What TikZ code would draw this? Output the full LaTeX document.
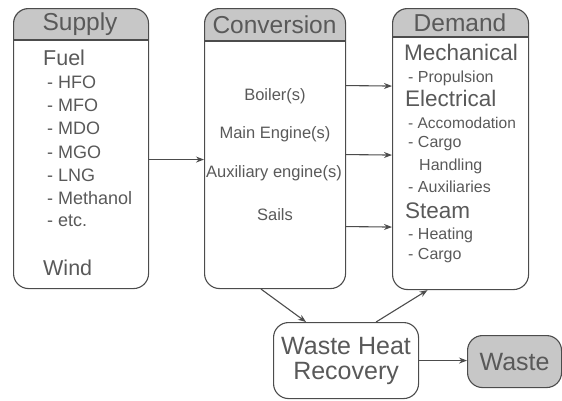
\documentclass[tikz,border=0pt]{standalone}
\usepackage{fontspec}
\setmainfont{Liberation Sans}
\usetikzlibrary{arrows.meta}
\begin{document}
\begin{tikzpicture}[x=1pt,y=-1pt,
  box/.style={draw=black!70, line width=1.1pt, rounded corners=15pt, inner sep=0pt},
  hdr/.style={fill=black!22},
  ttl/.style={text=black!65, inner sep=0pt, font=\fontsize{24.5}{24}\selectfont},
  big/.style={text=black!65, inner sep=0pt, anchor=west, font=\fontsize{21.5}{22}\selectfont},
  itm/.style={text=black!65, inner sep=0pt, anchor=west, font=\fontsize{18}{18}\selectfont},
  cit/.style={text=black!65, inner sep=0pt, font=\fontsize{16.5}{17}\selectfont},
  ditm/.style={text=black!65, inner sep=0pt, anchor=west, font=\fontsize{16}{16}\selectfont},
  arr/.style={draw=black!70, line width=1.1pt, -{Stealth[length=8pt,width=6pt]}}]
\useasboundingbox (0,0) rectangle (562,400);
% headers
\begin{scope}
\clip[rounded corners=15pt] (13,8) rectangle (148,288);
\fill[hdr] (13,8) rectangle (148,40);
\end{scope}
\begin{scope}
\clip[rounded corners=15pt] (204,8) rectangle (345,288);
\fill[hdr] (204,8) rectangle (345,41);
\end{scope}
\begin{scope}
\clip[rounded corners=15pt] (392,8) rectangle (528,289);
\fill[hdr] (392,8) rectangle (528,37);
\end{scope}
\draw[draw=black!70, line width=1.1pt] (13,40) -- (148,40);
\draw[draw=black!70, line width=1.1pt] (204,41) -- (345,41);
\draw[draw=black!70, line width=1.1pt] (392,37) -- (528,37);
% boxes
\node[box, anchor=north west, minimum width=135pt, minimum height=280pt] (supply) at (13,8) {};
\node[box, anchor=north west, minimum width=141pt, minimum height=280pt] (conv) at (204,8) {};
\node[box, anchor=north west, minimum width=136pt, minimum height=281pt] (demand) at (392,8) {};
\node[box, anchor=north west, minimum width=145pt, minimum height=76pt, align=center,
      text=black!65, font=\fontsize{25}{25}\selectfont] (whr) at (273,322) {Waste Heat\\Recovery};
\node[box, hdr, anchor=north west, minimum width=94pt, minimum height=52pt,
      text=black!65, font=\fontsize{25}{25}\selectfont] (waste) at (467,335) {Waste};
% titles
\node[ttl] (tsupply) at (80,24) {Supply};
\node[ttl] (tconv) at (274.5,24.5) {Conversion};
\node[ttl] (tdemand) at (460,22.5) {Demand};
% supply texts
\node[big] (fuel) at (43,58) {Fuel};
\node[itm] (s1) at (47,82) {- HFO};
\node[itm] (s2) at (47,105) {- MFO};
\node[itm] (s3) at (47,128) {- MDO};
\node[itm] (s4) at (47,152) {- MGO};
\node[itm] (s5) at (47,175) {- LNG};
\node[itm] (s6) at (47,198) {- Methanol};
\node[itm] (s7) at (47,221) {- etc.};
\node[big] (wind) at (43,268) {Wind};
% conversion texts
\node[cit] (c1) at (275,96) {Boiler(s)};
\node[cit] (c2) at (275,134) {Main Engine(s)};
\node[cit] (c3) at (274,173) {Auxiliary engine(s)};
\node[cit] (c4) at (275,215) {Sails};
% demand texts
\node[big, font=\fontsize{22.5}{23}\selectfont] (d1) at (404,52) {Mechanical};
\node[ditm] (d2) at (408,78) {- Propulsion};
\node[big, font=\fontsize{22.5}{23}\selectfont] (d3) at (405,98) {Electrical};
\node[ditm, font=\fontsize{15.5}{16}\selectfont] (d4) at (408,123) {- Accomodation};
\node[ditm] (d5) at (408,144) {- Cargo};
\node[ditm] (d6) at (419,166) {Handling};
\node[ditm] (d7) at (408,187) {- Auxiliaries};
\node[big, font=\fontsize{22.5}{23}\selectfont] (d8) at (405,211) {Steam};
\node[ditm] (d9) at (408,235) {- Heating};
\node[ditm] (d10) at (408,256) {- Cargo};
% connectors
\draw[arr] ([yshift=-11pt]supply.east) -- ([yshift=-11pt]conv.west);
\draw[arr] ([yshift=63pt]conv.east) -- ([yshift=63pt]demand.west);
\draw[arr] ([yshift=-6pt]conv.east) -- ([yshift=-6pt]demand.west);
\draw[arr] ([yshift=-78pt]conv.east) -- ([yshift=-78pt]demand.west);
\draw[arr] ([xshift=-14pt]conv.south) -- ([xshift=-40pt]whr.north);
\draw[arr] ([xshift=30pt]whr.north) -- ([xshift=-33pt]demand.south);
\draw[arr] (whr.east) -- (whr.east -| waste.west);
\end{tikzpicture}
\end{document}
